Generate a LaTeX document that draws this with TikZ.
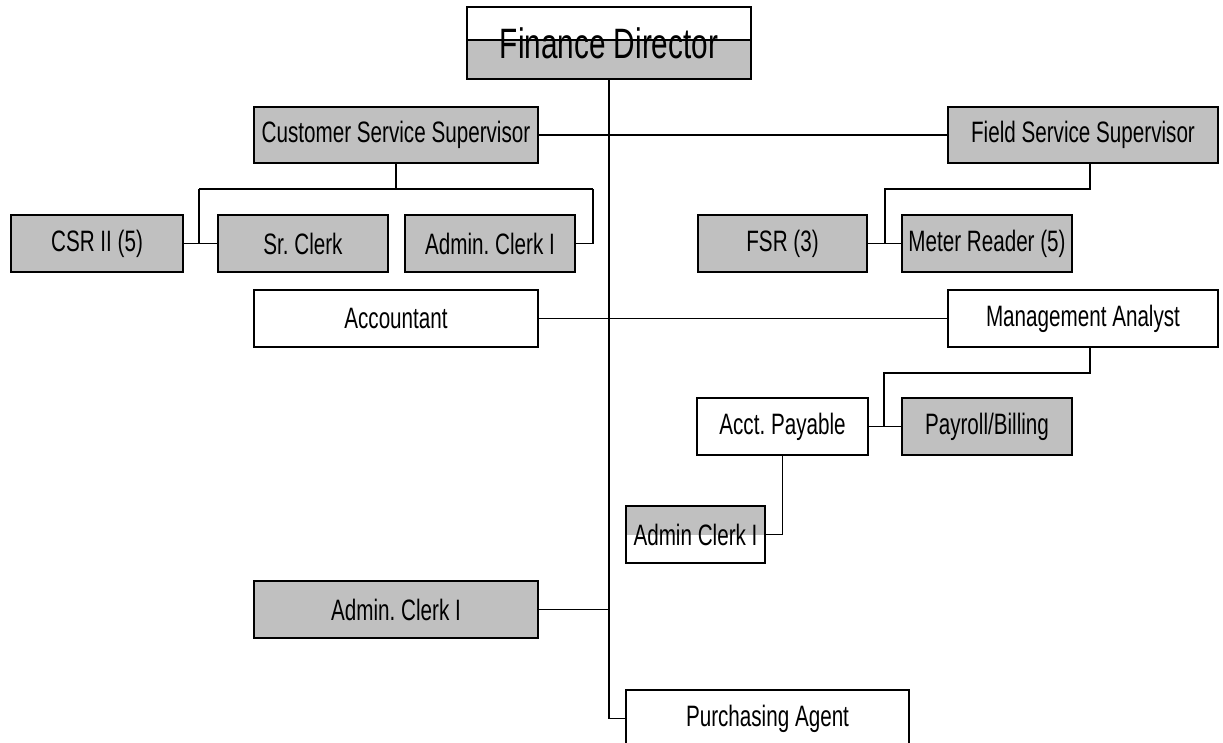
\documentclass[tikz,border=0pt]{standalone}
\usepackage{fontspec}
\setmainfont{Liberation Sans}[FakeStretch=0.7]
\usetikzlibrary{calc}
\definecolor{boxgray}{RGB}{192,192,192}
\tikzset{
  box/.style={draw=black, line width=1.8pt, inner sep=0pt, minimum height=57pt, align=center,
    font=\fontsize{29.5}{31}\selectfont},
  graybox/.style={box, fill=boxgray},
  whitebox/.style={box, fill=white},
  conn/.style={draw=black, line width=1.8pt}
}
\frenchspacing
\begin{document}
\begin{tikzpicture}[x=1pt,y=-1pt]
\useasboundingbox (0,0) rectangle (1223,742);
\clip (0,0) rectangle (1223,742);
% Finance director: white top, gray bottom
\fill[white] (467,7) rectangle (751,40);
\fill[boxgray] (467,40) rectangle (751,79);
\draw[line width=1.8pt] (467,40) -- (751,40);
\node[box, minimum width=284pt, minimum height=72pt, font=\fontsize{42.5}{44}\selectfont] (fd) at (609,43) {Finance Director};

% Admin Clerk I (half gray)
\fill[white] (626,506) rectangle (765,563);
\fill[boxgray] (626,506) rectangle (765,535);
\node[box, minimum width=139pt] (apc) at (695.5,534.5) {Admin Clerk I};

\node[graybox, minimum width=284pt, minimum height=56pt] (css) at (396,135) {Customer Service Supervisor};
\node[graybox, minimum width=270pt, minimum height=56pt] (fss) at (1083,135) {Field Service Supervisor};
\node[graybox, minimum width=172pt] (csr) at (97,243.5) {CSR II (5)};
\node[graybox, minimum width=170pt] (src) at (303,243.5) {Sr. Clerk};
\node[graybox, minimum width=170pt] (acl) at (490,243.5) {Admin. Clerk I};
\node[graybox, minimum width=169pt] (fsr) at (782.5,243.5) {FSR (3)};
\node[graybox, minimum width=170pt] (mr) at (987,243.5) {Meter Reader (5)};
\node[whitebox, minimum width=284pt] (acc) at (396,318.5) {Accountant};
\node[whitebox, minimum width=270pt] (ma) at (1083,318.5) {Management Analyst};
\node[whitebox, minimum width=171pt] (ap) at (782.5,426.5) {Acct. Payable};
\node[graybox, minimum width=170pt] (pb) at (987,426.5) {Payroll/Billing};
\node[graybox, minimum width=284pt] (acl2) at (396,609.5) {Admin. Clerk I};
\node[whitebox, minimum width=283pt] (pa) at (767.5,718.5) {Purchasing Agent};

% trunk
\draw[conn] (fd.south) -- (fd.south |- pa.west) -- (pa.west);
% supervisors
\draw[conn] (css.east) -- (fss.west);
% CSS children
\coordinate (cl) at (199,189);
\coordinate (cr) at (593,189);
\draw[conn] (css.south) -- (css.south |- cl);
\draw[conn] (cl) -- (cr);
\draw[conn] (cl) -- (cl |- csr.east);
\draw[conn] (csr.east) -- (src.west);
\draw[conn] (cr) -- (cr |- acl.east) -- (acl.east);
% FSS children
\coordinate (fa) at (1090,189);
\coordinate (fb) at (885,189);
\draw[conn] (fss.south -| fa) -- (fa) -- (fb) -- (fb |- fsr.east);
\draw[conn] (fsr.east) -- (mr.west);
% Accountant - MA
\draw[conn] (acc.east) -- (ma.west);
% MA children
\coordinate (ma1) at (1090,373);
\coordinate (ma2) at (884,373);
\draw[conn] (ma.south -| ma1) -- (ma1) -- (ma2) -- (ma2 |- ap.east);
\draw[conn] (ap.east) -- (pb.west);
% AP child
\draw[conn] (ap.south) -- (ap.south |- apc.east) -- (apc.east);
% lower admin clerk
\draw[conn] (acl2.east) -- (acl2.east -| fd.south);
\end{tikzpicture}
\end{document}
